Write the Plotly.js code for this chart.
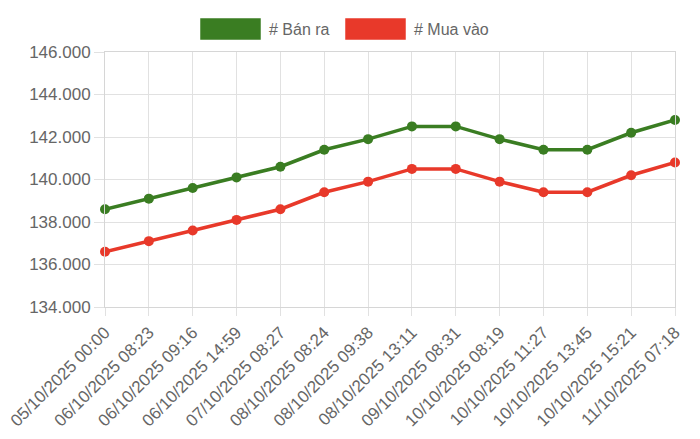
<!DOCTYPE html>
<html>
<head>
<meta charset="utf-8">
<script src="https://cdn.plot.ly/plotly-3.0.1.min.js"></script>
<style>
  html, body { margin: 0; padding: 0; background: #fff; }
  #chart { width: 700px; height: 439px; }
</style>
</head>
<body>
<div id="chart"></div>
<script>
const labels = [
  "05/10/2025 00:00", "06/10/2025 08:23", "06/10/2025 09:16", "06/10/2025 14:59",
  "07/10/2025 08:27", "08/10/2025 08:24", "08/10/2025 09:38", "08/10/2025 13:11",
  "09/10/2025 08:31", "10/10/2025 08:19", "10/10/2025 11:27", "10/10/2025 13:45",
  "10/10/2025 15:21", "11/10/2025 07:18"
];
const banRa = [138600, 139100, 139600, 140100, 140600, 141400, 141900, 142500,
               142500, 141900, 141400, 141400, 142200, 142800];
const muaVao = [136600, 137100, 137600, 138100, 138600, 139400, 139900, 140500,
                140500, 139900, 139400, 139400, 140200, 140800];

const green = "#3a7d22";
const red = "#e8392a";
const textColor = "#666666";
const gridColor = "#e1e1e1";
const fontFamily = "'Liberation Sans', Arial, sans-serif";

function series(name, values, color) {
    return {
        x: labels,
        y: values,
        name: name,
        type: "scatter",
        mode: "lines+markers",
        line: { color: color, width: 3.5 },
        marker: { color: color, size: 10 },
        cliponaxis: false,
        hoverinfo: "x+y+name"
    };
}

const traces = [
    series("# Bán ra", banRa, green),
    series("# Mua vào", muaVao, red)
];

// legend drawn as boxes + text, like the original
const legendItems = [
    { text: "# Bán ra", color: green, x0: 200, x1: 261, tx: 267 },
    { text: "# Mua vào", color: red, x0: 345, x1: 406, tx: 412 }
];

const shapes = legendItems.map(it => ({
    type: "rect", xref: "paper", yref: "paper",
    x0: (it.x0 - 105) / 570, x1: (it.x1 - 105) / 570,
    y0: (307 - 40) / 255, y1: (307 - 18) / 255,
    fillcolor: it.color,
    line: { color: "rgba(255,255,255,0.5)", width: 1 }
}));

const annotations = legendItems.map(it => ({
    xref: "paper", yref: "paper",
    x: (it.tx - 105) / 570, y: (307 - 29) / 255,
    xanchor: "left", yanchor: "middle",
    text: it.text, showarrow: false,
    font: { family: fontFamily, size: 16, color: textColor }
}));

const layout = {
    width: 700,
    height: 439,
    margin: { l: 105, r: 25, t: 52, b: 132 },
    paper_bgcolor: "#ffffff",
    plot_bgcolor: "#ffffff",
    separators: ",.",
    showlegend: false,
    font: { family: fontFamily, color: textColor, size: 17 },
    xaxis: {
        type: "category",
        range: [0, labels.length - 1],
        tickangle: -45,
        showgrid: true,
        gridcolor: gridColor,
        gridwidth: 1,
        ticks: "outside",
        ticklen: 8,
        tickcolor: gridColor,
        showline: true,
        linecolor: "#d6d6d6",
        mirror: true,
        zeroline: false,
        tickfont: { size: 17, color: textColor },
        automargin: false
    },
    yaxis: {
        range: [134000, 146000],
        dtick: 2000,
        tick0: 134000,
        tickformat: ",d",
        showgrid: true,
        gridcolor: gridColor,
        gridwidth: 1,
        ticks: "outside",
        ticklen: 10,
        tickcolor: gridColor,
        showline: true,
        linecolor: "#d6d6d6",
        mirror: true,
        zeroline: false,
        tickfont: { size: 17, color: textColor },
        automargin: false
    },
    shapes: shapes,
    annotations: annotations
};

Plotly.newPlot("chart", traces, layout, { displayModeBar: false, responsive: false });
</script>
</body>
</html>
